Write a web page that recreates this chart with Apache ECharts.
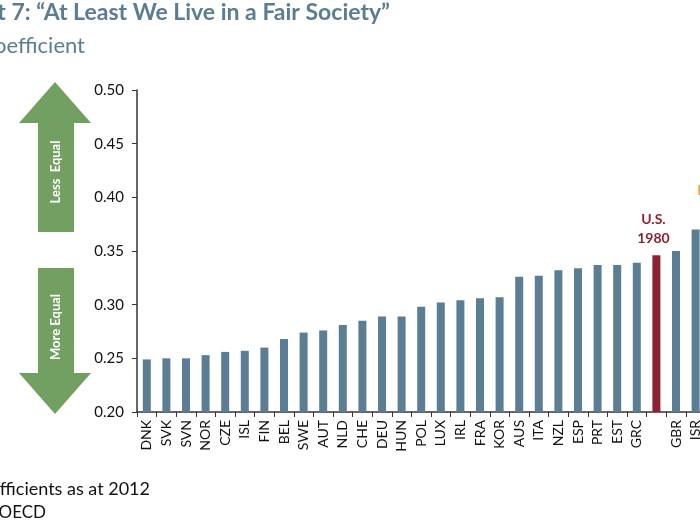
<!DOCTYPE html>
<html>
<head>
<meta charset="utf-8">
<script src="https://cdn.jsdelivr.net/npm/echarts@6/dist/echarts.min.js"></script>
<style>html,body{margin:0;padding:0;background:#fff;}#chart{width:700px;height:525px;}</style>
</head>
<body>
<div id="chart"></div>
<script>
const categories = ['DNK','SVK','SVN','NOR','CZE','ISL','FIN','BEL','SWE','AUT','NLD','CHE','DEU','HUN','POL','LUX','IRL','FRA','KOR','AUS','ITA','NZL','ESP','PRT','EST','GRC','U.S. 1980','GBR','ISR','U.S. Now'];
const tickLabels = ['DNK','SVK','SVN','NOR','CZE','ISL','FIN','BEL','SWE','AUT','NLD','CHE','DEU','HUN','POL','LUX','IRL','FRA','KOR','AUS','ITA','NZL','ESP','PRT','EST','GRC','','GBR','ISR',''];
const giniValues = [0.249,0.250,0.250,0.253,0.256,0.257,0.260,0.268,0.274,0.276,0.281,0.285,0.289,0.289,0.298,0.302,0.304,0.306,0.307,0.326,0.327,0.332,0.334,0.337,0.337,0.339,0.346,0.350,0.370,0.391];
const yTicks = ['0.20','0.25','0.30','0.35','0.40','0.45','0.50'];
const titleText = 'Exhibit 7: \u201CAt Least We Live in a Fair Society\u201D';
const subtitleText = 'Gini Coefficient';
const noteText = 'Note: Gini coefficients as at 2012';
const sourceText = 'Source: OECD';

const BAR = '#5B7E95', RED = '#8C2232', ORANGE = '#F0A030', GREEN = '#72A061';

const data = giniValues.map((v, i) => {
  const name = categories[i];
  if (name === 'U.S. 1980') {
    return {value: v, itemStyle: {color: RED},
      label: {show: true, position: 'top', distance: 7, offset: [-3, 0], formatter: 'U.S.\n1980',
        color: RED, fontWeight: 'bold', fontSize: 14, lineHeight: 19, fontFamily: 'Lato'}};
  }
  if (name === 'U.S. Now') {
    return {value: v, itemStyle: {color: ORANGE},
      label: {show: true, position: 'top', distance: 7, offset: [-3, 0], formatter: 'U.S.\nNow',
        color: ORANGE, fontWeight: 'bold', fontSize: 14, lineHeight: 19, fontFamily: 'Lato'}};
  }
  return {value: v};
});

const chart = echarts.init(document.getElementById('chart'));
chart.setOption({
  animation: false,
  backgroundColor: '#fff',
  grid: {left: 137, width: 588, top: 90, height: 322, containLabel: false, outerBoundsMode: 'none'},
  xAxis: {
    type: 'category', data: categories,
    axisLine: {lineStyle: {color: '#333', width: 1.5}},
    axisTick: {show: true, alignWithLabel: false, length: 5, lineStyle: {color: '#333'}},
    axisLabel: {rotate: 90, interval: 0, margin: 8, fontSize: 14, color: '#111', fontFamily: 'Lato',
      formatter: (v, i) => tickLabels[i]}
  },
  yAxis: {
    type: 'value', min: 0.2, max: 0.5, interval: 0.05,
    splitLine: {show: false},
    axisLine: {show: true, lineStyle: {color: '#333', width: 1.5}},
    axisTick: {show: true, length: 5, lineStyle: {color: '#333'}},
    axisLabel: {margin: 13, fontSize: 15, color: '#111', fontFamily: 'Lato',
      formatter: v => yTicks[Math.round((v - 0.2) / 0.05)]}
  },
  series: [{type: 'bar', data: data, barWidth: 8, itemStyle: {color: BAR}}],
  graphic: [
    {type: 'text', style: {text: titleText, x: 390, y: 13, align: 'right', verticalAlign: 'middle',
      textAlign: 'right', textVerticalAlign: 'middle', font: 'bold 23px Lato', fill: '#5A7D93'}},
    {type: 'text', style: {text: subtitleText, x: 85, y: 46, align: 'right', verticalAlign: 'middle',
      textAlign: 'right', textVerticalAlign: 'middle', font: '22px Lato', fill: '#5A7D93'}},
    {type: 'text', style: {text: noteText, x: 150, y: 489, align: 'right', verticalAlign: 'middle',
      textAlign: 'right', textVerticalAlign: 'middle', font: '18px Lato', fill: '#111'}},
    {type: 'text', style: {text: sourceText, x: 46, y: 513, align: 'right', verticalAlign: 'middle',
      textAlign: 'right', textVerticalAlign: 'middle', font: '17px Lato', fill: '#111'}},
    {type: 'polygon', shape: {points: [[55,82],[91,123],[74,123],[74,232],[38,232],[38,123],[19,123]]},
      style: {fill: GREEN}},
    {type: 'polygon', shape: {points: [[38,268],[74,268],[74,373],[91,373],[55,414],[19,373],[38,373]]},
      style: {fill: GREEN}},
    {type: 'text', x: 56, y: 172, rotation: Math.PI / 2,
      style: {text: 'Less  Equal', x: 0, y: 0, align: 'center', verticalAlign: 'middle',
        textAlign: 'center', textVerticalAlign: 'middle', font: 'bold 13px Lato', fill: '#fff'}},
    {type: 'text', x: 56, y: 327, rotation: Math.PI / 2,
      style: {text: 'More Equal', x: 0, y: 0, align: 'center', verticalAlign: 'middle',
        textAlign: 'center', textVerticalAlign: 'middle', font: 'bold 13px Lato', fill: '#fff'}}
  ]
});
</script>
</body>
</html>
